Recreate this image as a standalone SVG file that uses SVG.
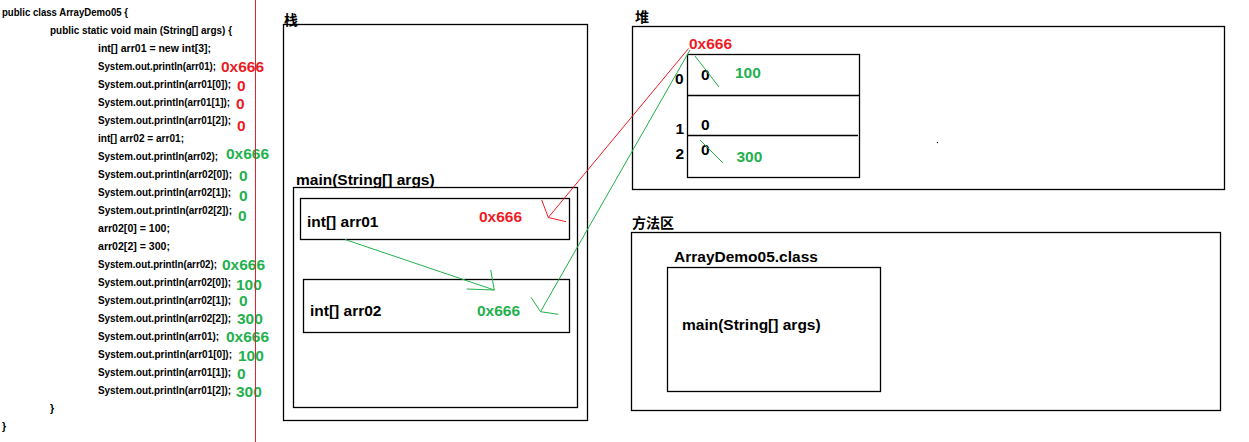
<svg xmlns="http://www.w3.org/2000/svg" width="1249" height="442" viewBox="0 0 1249 442">
<style>
.code{font-family:"Liberation Sans",Arial,sans-serif;font-weight:bold;font-size:10.5px;fill:#000}
.lbl{font-family:"Liberation Sans",Arial,sans-serif;font-weight:bold;font-size:15.5px;fill:#000}
.cjk{font-family:"Liberation Sans","Noto Sans CJK SC",sans-serif;font-weight:bold;font-size:14px;fill:#000}
.r{font-family:"Liberation Sans",Arial,sans-serif;font-weight:bold;font-size:15.5px;fill:#ed1c24}
.g{font-family:"Liberation Sans",Arial,sans-serif;font-weight:bold;font-size:15.5px;fill:#22b14c}
.box{fill:none;stroke:#000;stroke-width:1.3}
.rl{fill:none;stroke:#ed1c24;stroke-width:1}
.gl{fill:none;stroke:#22b14c;stroke-width:1}
</style>
<rect width="1249" height="442" fill="#fff"/>
<g id="code">
<text class="code" x="2" y="16" textLength="126" lengthAdjust="spacingAndGlyphs">public class ArrayDemo05 {</text>
<text class="code" x="50" y="34" textLength="182" lengthAdjust="spacingAndGlyphs">public static void main (String[] args) {</text>
<text class="code" x="98" y="52" textLength="113" lengthAdjust="spacingAndGlyphs">int[] arr01 = new int[3];</text>
<text class="code" x="98" y="70" textLength="118" lengthAdjust="spacingAndGlyphs">System.out.println(arr01);</text>
<text class="code" x="98" y="88" textLength="133" lengthAdjust="spacingAndGlyphs">System.out.println(arr01[0]);</text>
<text class="code" x="98" y="106" textLength="132" lengthAdjust="spacingAndGlyphs">System.out.println(arr01[1]);</text>
<text class="code" x="98" y="124" textLength="133" lengthAdjust="spacingAndGlyphs">System.out.println(arr01[2]);</text>
<text class="code" x="98" y="142" textLength="86" lengthAdjust="spacingAndGlyphs">int[] arr02 = arr01;</text>
<text class="code" x="98" y="160" textLength="120" lengthAdjust="spacingAndGlyphs">System.out.println(arr02);</text>
<text class="code" x="98" y="178" textLength="134" lengthAdjust="spacingAndGlyphs">System.out.println(arr02[0]);</text>
<text class="code" x="98" y="196" textLength="133" lengthAdjust="spacingAndGlyphs">System.out.println(arr02[1]);</text>
<text class="code" x="98" y="214" textLength="134" lengthAdjust="spacingAndGlyphs">System.out.println(arr02[2]);</text>
<text class="code" x="98" y="232" textLength="72" lengthAdjust="spacingAndGlyphs">arr02[0] = 100;</text>
<text class="code" x="98" y="250" textLength="72" lengthAdjust="spacingAndGlyphs">arr02[2] = 300;</text>
<text class="code" x="98" y="268" textLength="119" lengthAdjust="spacingAndGlyphs">System.out.println(arr02);</text>
<text class="code" x="98" y="286" textLength="133" lengthAdjust="spacingAndGlyphs">System.out.println(arr02[0]);</text>
<text class="code" x="98" y="304" textLength="133" lengthAdjust="spacingAndGlyphs">System.out.println(arr02[1]);</text>
<text class="code" x="98" y="322" textLength="133" lengthAdjust="spacingAndGlyphs">System.out.println(arr02[2]);</text>
<text class="code" x="98" y="340" textLength="121" lengthAdjust="spacingAndGlyphs">System.out.println(arr01);</text>
<text class="code" x="98" y="358" textLength="134" lengthAdjust="spacingAndGlyphs">System.out.println(arr01[0]);</text>
<text class="code" x="98" y="376" textLength="133" lengthAdjust="spacingAndGlyphs">System.out.println(arr01[1]);</text>
<text class="code" x="98" y="394" textLength="133" lengthAdjust="spacingAndGlyphs">System.out.println(arr01[2]);</text>
<text class="code" x="50" y="412">}</text>
<text class="code" x="2" y="430">}</text>
</g>
<g id="outputs">
<text class="r" x="221" y="72">0x666</text>
<text class="r" x="237" y="91">0</text>
<text class="r" x="236" y="109">0</text>
<text class="r" x="237" y="131">0</text>
<text class="g" x="226" y="159">0x666</text>
<text class="g" x="239" y="181">0</text>
<text class="g" x="239" y="201">0</text>
<text class="g" x="238" y="221">0</text>
<text class="g" x="222" y="270">0x666</text>
<text class="g" x="236" y="290">100</text>
<text class="g" x="239" y="306">0</text>
<text class="g" x="237" y="324">300</text>
<text class="g" x="226" y="342">0x666</text>
<text class="g" x="238" y="361">100</text>
<text class="g" x="237" y="379">0</text>
<text class="g" x="236" y="397">300</text>
</g>
<line x1="255.5" y1="0" x2="255.5" y2="442" stroke="#d9262f" stroke-width="1"/>
<g id="stack">
<text class="cjk" x="284" y="25">栈</text>
<rect class="box" x="283.5" y="24.5" width="304" height="396"/>
</g>
<g id="main-frame">
<text class="lbl" x="296" y="185">main(String[] args)</text>
<rect class="box" x="293.5" y="187.5" width="284" height="220"/>
</g>
<g id="arr01">
<rect class="box" x="300.5" y="198.5" width="269" height="41"/>
<text class="lbl" x="307" y="227">int[] arr01</text>
<text class="r" x="479" y="222">0x666</text>
</g>
<g id="arr02">
<rect class="box" x="303.5" y="279.5" width="266" height="53"/>
<text class="lbl" x="310" y="316">int[] arr02</text>
<text class="g" x="477" y="316">0x666</text>
</g>
<g id="heap">
<text class="cjk" x="635" y="22">堆</text>
<rect class="box" x="632.5" y="26.5" width="592" height="163"/>
<circle cx="937.5" cy="142.5" r="0.7" fill="#000"/>
</g>
<g id="array">
<text class="r" x="689" y="49">0x666</text>
<rect class="box" x="687.5" y="54.5" width="172" height="123"/>
<line class="box" x1="687.5" y1="95.5" x2="859.5" y2="95.5"/>
<line class="box" x1="687.5" y1="135.5" x2="858" y2="135.5"/>
<text class="lbl" x="675" y="84">0</text>
<text class="lbl" x="675.5" y="134">1</text>
<text class="lbl" x="675.5" y="159">2</text>
<text class="lbl" x="701" y="80">0</text>
<text class="lbl" x="701" y="130">0</text>
<text class="lbl" x="701" y="155">0</text>
<text class="g" x="735" y="77.5">100</text>
<text class="g" x="736.5" y="162">300</text>
<line class="gl" x1="695" y1="56" x2="719" y2="87"/>
<line class="gl" x1="700" y1="140" x2="723" y2="163"/>
</g>
<g id="method-area">
<text class="cjk" x="632" y="228">方法区</text>
<rect class="box" x="631.5" y="232.5" width="589" height="178"/>
</g>
<g id="class">
<text class="lbl" x="674" y="261.5">ArrayDemo05.class</text>
<rect class="box" x="667.5" y="267.5" width="213" height="124"/>
<text class="lbl" x="682" y="330">main(String[] args)</text>
</g>
<g id="connectors">
<path class="rl" d="M688.5,48.5 L548.3,217.5 M541.7,200 L548.3,217.5 L566,221.7"/>
<path class="gl" d="M345,239.5 L494.3,290 M490.7,270 L494.3,290 L466.7,289"/>
<path class="gl" d="M690,50 L540.5,311.7 M531,297.3 L540.5,311.7 L558.3,314.3"/>
</g>
</svg>
